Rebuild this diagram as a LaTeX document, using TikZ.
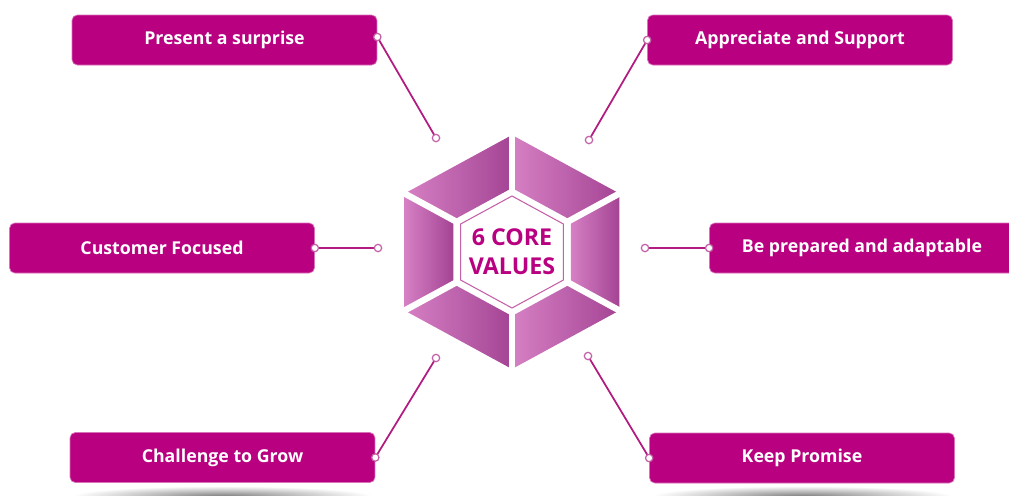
\documentclass[tikz,border=0pt]{standalone}
\usepackage{fontspec}
\setmainfont{Open Sans}
\usetikzlibrary{shapes.geometric}

\definecolor{boxpink}{RGB}{184,0,128}
\definecolor{linkpink}{RGB}{178,28,128}
\definecolor{dotpink}{RGB}{196,96,166}
\definecolor{hexlight}{RGB}{214,128,196}
\definecolor{hexdark}{RGB}{164,68,148}

\tikzset{
  valuebox/.style={draw=boxpink!55!white, line width=0.4pt, fill=boxpink,
    rounded corners=3pt, minimum width=6.1cm, minimum height=1cm,
    text=white, font=\bfseries\fontsize{10.1}{12}\selectfont},
  link/.style={linkpink, line width=1pt},
  dot/.style={circle, draw=dotpink, fill=white, line width=0.7pt,
    inner sep=0pt, minimum size=4.2pt},
}

\begin{document}
\begin{tikzpicture}[x=0.02cm, y=-0.02cm]
    \useasboundingbox (0,0) rectangle (1009,495);

    % Soft shadows under the lower boxes
    \shade[inner color=black!50, outer color=white] (222,496) ellipse (150 and 10);
    \shade[inner color=black!50, outer color=white] (802,496) ellipse (150 and 10);

    % The six value boxes
    \node[valuebox] (surprise)   at (224.5,40)  {Present a surprise};
    \node[valuebox] (appreciate) at (800,40)    {Appreciate and Support};
    \node[valuebox] (customer)   at (162,248)   {Customer Focused};
    \node[valuebox] (prepared)   at (862,248)   {Be prepared and adaptable};
    \node[valuebox] (challenge)  at (222.5,457.5) {Challenge to Grow};
    \node[valuebox] (promise)    at (802,458)   {Keep Promise};

    % Hexagon made of six gradient pieces
    \begin{scope}[shift={(512,252)}, xscale=1.06]
        \foreach \a in {90,30,-30,-90,-150,150} {
            \shade[left color=hexlight, right color=hexdark]
                (\a:117) -- (\a-60:117) -- (\a-60:64) -- (\a:64) -- cycle;
        }
        % white gaps between pieces
        \foreach \a in {90,30,-30,-90,-150,150}
            \draw[white, line width=3.6pt] (\a:60) -- (\a:125);
        \draw[dotpink, fill=white, line width=0.6pt]
            (90:56) -- (30:56) -- (-30:56) -- (-90:56) -- (-150:56) -- (150:56) -- cycle;
    \end{scope}
    \node[align=center, text=boxpink, font=\bfseries\fontsize{13.2}{16.5}\selectfont]
        (core) at (512,252) {6 CORE\\VALUES};

    % Free ends of the connectors, next to the hexagon
    \coordinate (p1) at (436,138);
    \coordinate (p2) at (589,140);
    \coordinate (p3) at (378,248);
    \coordinate (p4) at (645,248);
    \coordinate (p5) at (436,358);
    \coordinate (p6) at (588,356);

    % Connectors
    \draw[link] ([yshift=0.06cm]surprise.east) node[dot] {} -- (p1) node[dot] {};
    \draw[link] (appreciate.west) node[dot] {} -- (p2) node[dot] {};
    \draw[link] (customer.east) node[dot] {} -- (p3) node[dot] {};
    \draw[link] (prepared.west) node[dot] {} -- (p4) node[dot] {};
    \draw[link] (challenge.east) node[dot] {} -- (p5) node[dot] {};
    \draw[link] (promise.west) node[dot] {} -- (p6) node[dot] {};
\end{tikzpicture}
\end{document}
